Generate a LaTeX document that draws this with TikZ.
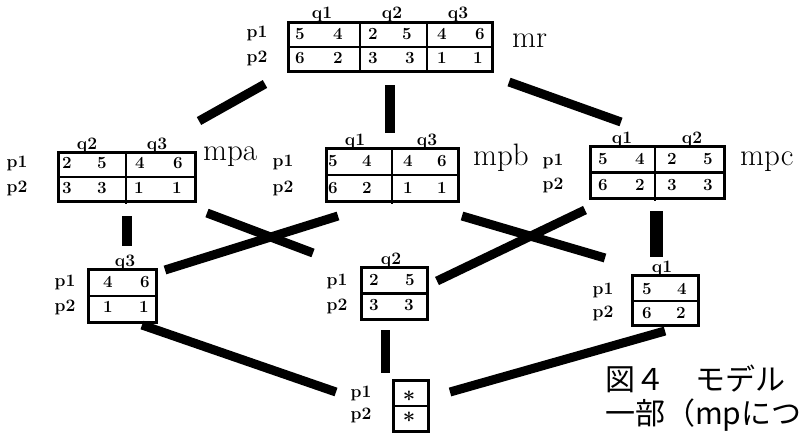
\documentclass[tikz,border=0pt]{standalone}
\usepackage{fontspec}
\newfontfamily\cjk{Noto Sans CJK JP}
\tikzset{
  tbl/.style={draw, line width=2.7pt, inner sep=0pt, anchor=north west},
  rule/.style={line width=2.5pt},
  num/.style={font=\bfseries\fontsize{17}{17}\selectfont, inner sep=0pt},
  lab/.style={font=\bfseries\fontsize{17.5}{17.5}\selectfont, inner sep=0pt},
  big/.style={font=\fontsize{31}{31}\selectfont, inner sep=0pt, anchor=base west},
  captext/.style={font=\cjk\fontsize{30}{30}\selectfont, inner sep=0pt, anchor=base west},
  link/.style={line width=9pt},
}
\begin{document}
\begin{tikzpicture}[x=1pt,y=-1pt]
\useasboundingbox (0,0) rectangle (800,434);
\clip (0,0) rectangle (800,434);
\fill[white] (0,0) rectangle (800,434);

% ---------- mr ----------
\node[tbl, minimum width=204pt, minimum height=49pt] (mr) at (287,21) {};
\draw[rule] (mr.west) -- (mr.east);
\draw[rule] (360,21) -- (360,70);
\draw[rule] (427,21) -- (427,70);
\foreach \x/\t [count=\i] in {300/5,338/4,373/2,407/5,442/4,480/6}
  \node[num] (mr-a\i) at (\x,34) {\t};
\foreach \x/\t [count=\i] in {300/6,338/2,373/3,410/3,442/1,478/1}
  \node[num] (mr-b\i) at (\x,58) {\t};
\foreach \x/\t [count=\i] in {322/q1,392/q2,458/q3}
  \node[lab] (mr-q\i) at (\x,14) {\t};
\node[lab] (mr-p1) at (257,33) {p1};
\node[lab] (mr-p2) at (257,58) {p2};
\node[big] (mr-name) at (512,47) {mr};

% ---------- mpa ----------
\node[tbl, minimum width=137pt, minimum height=49pt] (mpa) at (57,151) {};
\draw[rule] (mpa.west) -- (mpa.east);
\draw[rule] (126,151) -- (126,204);
\foreach \x/\t [count=\i] in {67/2,102/5,140/4,178/6}
  \node[num] (mpa-a\i) at (\x,163) {\t};
\foreach \x/\t [count=\i] in {67/3,102/3,139/1,177/1}
  \node[num] (mpa-b\i) at (\x,188) {\t};
\foreach \x/\t [count=\i] in {87/q2,157/q3}
  \node[lab] (mpa-q\i) at (\x,145) {\t};
\node[lab] (mpa-p1) at (17,163) {p1};
\node[lab] (mpa-p2) at (17,188) {p2};
\node[big] (mpa-name) at (203,160) {mpa};

% ---------- mpb ----------
\node[tbl, minimum width=132pt, minimum height=53pt] (mpb) at (325,147) {};
\draw[rule] (mpb.west) -- (mpb.east);
\draw[rule] (392,147) -- (392,204);
\foreach \x/\t [count=\i] in {333/5,367/4,408/4,442/6}
  \node[num] (mpb-a\i) at (\x,161) {\t};
\foreach \x/\t [count=\i] in {333/6,367/2,408/1,442/1}
  \node[num] (mpb-b\i) at (\x,188) {\t};
\foreach \x/\t [count=\i] in {355/q1,427/q3}
  \node[lab] (mpb-q\i) at (\x,141) {\t};
\node[lab] (mpb-p1) at (283,162) {p1};
\node[lab] (mpb-p2) at (283,188) {p2};
\node[big] (mpb-name) at (473,165) {mpb};

% ---------- mpc ----------
\node[tbl, minimum width=134pt, minimum height=52pt] (mpc) at (589,145) {};
\draw[rule] (mpc.west) -- (mpc.east);
\draw[rule] (655,145) -- (655,201);
\foreach \x/\t [count=\i] in {603/5,640/4,672/2,708/5}
  \node[num] (mpc-a\i) at (\x,159) {\t};
\foreach \x/\t [count=\i] in {603/6,640/2,672/3,708/3}
  \node[num] (mpc-b\i) at (\x,185) {\t};
\foreach \x/\t [count=\i] in {622/q1,692/q2}
  \node[lab] (mpc-q\i) at (\x,139) {\t};
\node[lab] (mpc-p1) at (553,161) {p1};
\node[lab] (mpc-p2) at (553,185) {p2};
\node[big] (mpc-name) at (740,165) {mpc};

% ---------- q3 ----------
\node[tbl, minimum width=68pt, minimum height=53pt] (tq3) at (87,268) {};
\draw[rule] (tq3.west) -- (tq3.east);
\node[num] (tq3-a1) at (108,282) {4};
\node[num] (tq3-a2) at (145,282) {6};
\node[num] (tq3-b1) at (108,307) {1};
\node[num] (tq3-b2) at (144,307) {1};
\node[lab] (tq3-q) at (125,262) {q3};
\node[lab] (tq3-p1) at (65,282) {p1};
\node[lab] (tq3-p2) at (65,307) {p2};

% ---------- q2 ----------
\node[tbl, minimum width=66pt, minimum height=52pt] (tq2) at (360,266) {};
\draw[rule] (tq2.west) -- (tq2.east);
\node[num] (tq2-a1) at (374,280) {2};
\node[num] (tq2-a2) at (410,280) {5};
\node[num] (tq2-b1) at (374,305) {3};
\node[num] (tq2-b2) at (409,305) {3};
\node[lab] (tq2-q) at (391,260) {q2};
\node[lab] (tq2-p1) at (337,281) {p1};
\node[lab] (tq2-p2) at (337,306) {p2};

% ---------- q1 ----------
\node[tbl, minimum width=66pt, minimum height=50pt] (tq1) at (631,274) {};
\draw[rule] (631,301) -- (697,301);
\node[num] (tq1-a1) at (647,289) {5};
\node[num] (tq1-a2) at (682,289) {4};
\node[num] (tq1-b1) at (647,313) {6};
\node[num] (tq1-b2) at (681,313) {2};
\node[lab] (tq1-q) at (662,268) {q1};
\node[lab] (tq1-p1) at (603,290) {p1};
\node[lab] (tq1-p2) at (603,313) {p2};

% ---------- star ----------
\node[tbl, minimum width=35pt, minimum height=51pt] (ts) at (392,379) {};
\draw[rule] (ts.west) -- (ts.east);
\node[num, font=\bfseries\fontsize{22}{22}\selectfont] (ts-a) at (409,399) {*};
\node[num, font=\bfseries\fontsize{22}{22}\selectfont] (ts-b) at (409,420) {*};
\node[lab] (ts-p1) at (361,393) {p1};
\node[lab] (ts-p2) at (361,415) {p2};

% ---------- connector ends ----------
\coordinate (mr-sw) at (265,84);   \coordinate (mpa-ne) at (199,121);
\coordinate (mr-s)  at (390,85);   \coordinate (mpb-n)  at (390,133);
\coordinate (mr-se) at (509,82);   \coordinate (mpc-nw) at (621,122);
\coordinate (mpa-s) at (127,216);  \coordinate (tq3-n)  at (127,246);
\coordinate (mpa-se) at (207,213); \coordinate (tq2-nw) at (313,253);
\coordinate (mpb-sw) at (338,216); \coordinate (tq3-ne) at (165,270);
\coordinate (mpb-se) at (462,216); \coordinate (tq1-nw) at (605,258);
\coordinate (mpc-sw) at (585,210); \coordinate (tq2-ne) at (437,281);
\coordinate (mpc-s) at (656,211);  \coordinate (tq1-n)  at (656,257);
\coordinate (tq3-se) at (142,325); \coordinate (ts-nw)  at (336,392);
\coordinate (tq2-s) at (385,330);  \coordinate (ts-n)   at (385,373);
\coordinate (tq1-sw) at (665,331); \coordinate (ts-ne)  at (450,392);

\draw[link] (mr-sw) -- (mpa-ne);
\draw[link, line width=10pt] (mr-s) -- (mpb-n);
\draw[link] (mr-se) -- (mpc-nw);
\draw[link, line width=10pt] (mpa-s) -- (tq3-n);
\draw[link] (mpa-se) -- (tq2-nw);
\draw[link] (mpb-sw) -- (tq3-ne);
\draw[link] (mpb-se) -- (tq1-nw);
\draw[link] (mpc-sw) -- (tq2-ne);
\draw[link, line width=13pt] (mpc-s) -- (tq1-n);
\draw[link] (tq3-se) -- (ts-nw);
\draw[link] (tq2-s) -- (ts-n);
\draw[link] (tq1-sw) -- (ts-ne);

% ---------- caption ----------
\node[captext] (cap1) at (605,390) {図４　モデル};
\node[captext] (cap2) at (605,424) {一部（mpにつ};
\end{tikzpicture}
\end{document}
